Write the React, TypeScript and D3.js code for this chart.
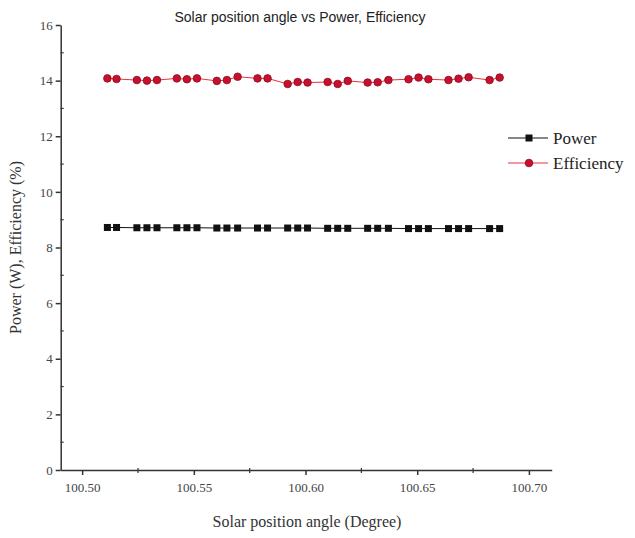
import React, { useEffect, useRef } from 'react';
import * as d3 from 'd3';

// solar position angle (degree)
const angles = [
  100.5113, 100.5154,
  100.5245, 100.5290, 100.5335,
  100.5424, 100.5469, 100.5514,
  100.5603, 100.5648, 100.5696,
  100.5785, 100.5830,
  100.5920, 100.5965, 100.6009,
  100.6099, 100.6144, 100.6189,
  100.6278, 100.6323, 100.6371,
  100.6461, 100.6506, 100.6550,
  100.6640, 100.6685, 100.6730,
  100.6824, 100.6869,
];

const power = [
  8.72, 8.72,
  8.71, 8.71, 8.71,
  8.71, 8.71, 8.71,
  8.70, 8.70, 8.70,
  8.70, 8.70,
  8.70, 8.70, 8.70,
  8.69, 8.69, 8.69,
  8.69, 8.69, 8.69,
  8.68, 8.68, 8.68,
  8.68, 8.68, 8.68,
  8.68, 8.68,
];

const efficiency = [
  14.08, 14.06,
  14.02, 14.0, 14.02,
  14.08, 14.05, 14.08,
  13.99, 14.02, 14.14,
  14.08, 14.08,
  13.88, 13.95, 13.93,
  13.95, 13.88, 13.99,
  13.93, 13.94, 14.02,
  14.05, 14.11, 14.05,
  14.02, 14.07, 14.12,
  14.02, 14.11,
];

const xTicks = [100.5, 100.55, 100.6, 100.65, 100.7];
const yTicks = [0, 2, 4, 6, 8, 10, 12, 14, 16];

const W = 635;
const H = 538;

const draw = (node: SVGSVGElement) => {
  const svg = d3.select(node);
  svg.selectAll('*').remove();

  const x = d3.scaleLinear().domain([100.4904, 100.7102]).range([60.7, 551.7]);
  const y = d3.scaleLinear().domain([0, 16]).range([470, 25]);
  const axisColor = '#333';
  const serif = '"Liberation Serif", "Times New Roman", serif';

  // x axis
  const xAxis = d3.axisBottom(x)
    .tickValues(xTicks)
    .tickFormat(d3.format('.2f'))
    .tickSize(5)
    .tickSizeOuter(0);
  const gx = svg.append('g')
    .attr('transform', `translate(0, ${y(0)})`)
    .call(xAxis);
  gx.select('.domain').attr('stroke', axisColor).attr('stroke-width', 1.5);
  gx.selectAll('.tick line').attr('stroke', axisColor).attr('stroke-width', 1.5);
  gx.selectAll('.tick text')
    .attr('fill', '#444')
    .attr('font-family', serif)
    .attr('font-size', 13)
    .attr('dy', '1.1em');
  // minor ticks
  gx.selectAll('.minor')
    .data([100.525, 100.575, 100.625, 100.675])
    .enter()
    .append('line')
    .attr('x1', d => x(d))
    .attr('x2', d => x(d))
    .attr('y1', -2)
    .attr('y2', 3)
    .attr('stroke', axisColor)
    .attr('stroke-width', 1.2);

  // y axis
  const yAxis = d3.axisLeft(y)
    .tickValues(yTicks)
    .tickFormat(d3.format('d'))
    .tickSize(5)
    .tickSizeOuter(0);
  const gy = svg.append('g')
    .attr('transform', `translate(${x.range()[0]}, 0)`)
    .call(yAxis);
  gy.select('.domain').attr('stroke', axisColor).attr('stroke-width', 1.5);
  gy.selectAll('.tick line').attr('stroke', axisColor).attr('stroke-width', 1.5);
  gy.selectAll('.tick text')
    .attr('fill', '#444')
    .attr('font-family', serif)
    .attr('font-size', 13);
  gy.selectAll('.minor')
    .data([1, 3, 5, 7, 9, 11, 13, 15])
    .enter()
    .append('line')
    .attr('x1', 0)
    .attr('x2', 3)
    .attr('y1', d => y(d))
    .attr('y2', d => y(d))
    .attr('stroke', axisColor)
    .attr('stroke-width', 1.2);

  // titles
  svg.append('text')
    .text('Solar position angle vs Power, Efficiency')
    .attr('x', 300)
    .attr('y', 22)
    .attr('text-anchor', 'middle')
    .attr('font-family', '"Liberation Sans", Arial, sans-serif')
    .attr('font-size', 14)
    .attr('fill', '#222');

  svg.append('text')
    .text('Solar position angle (Degree)')
    .attr('x', 307)
    .attr('y', 527)
    .attr('text-anchor', 'middle')
    .attr('font-family', serif)
    .attr('font-size', 16)
    .attr('fill', '#333');

  svg.append('text')
    .text('Power (W), Efficiency (%)')
    .attr('transform', `translate(21, ${(y(0) + y(16)) / 2}) rotate(-90)`)
    .attr('text-anchor', 'middle')
    .attr('font-family', serif)
    .attr('font-size', 16)
    .attr('fill', '#333');

  const line = d3.line<number>()
    .x((d, i) => x(angles[i]))
    .y(d => y(d));

  // power series
  svg.append('path')
    .datum(power)
    .attr('d', line)
    .attr('fill', 'none')
    .attr('stroke', '#111')
    .attr('stroke-width', 1);
  svg.append('g')
    .selectAll('rect')
    .data(power)
    .enter()
    .append('rect')
    .attr('x', (d, i) => x(angles[i]) - 3.5)
    .attr('y', d => y(d) - 3.5)
    .attr('width', 7)
    .attr('height', 7)
    .attr('fill', '#111');

  // efficiency series
  svg.append('path')
    .datum(efficiency)
    .attr('d', line)
    .attr('fill', 'none')
    .attr('stroke', '#e8323c')
    .attr('stroke-width', 1);
  svg.append('g')
    .selectAll('circle')
    .data(efficiency)
    .enter()
    .append('circle')
    .attr('cx', (d, i) => x(angles[i]))
    .attr('cy', d => y(d))
    .attr('r', 3.8)
    .attr('fill', '#c8102e')
    .attr('stroke', '#8a0a1e')
    .attr('stroke-width', 0.8);

  // legend
  const legend = [
    { name: 'Power', color: '#111', shape: 'square' },
    { name: 'Efficiency', color: '#e8323c', shape: 'circle' },
  ];
  const lg = svg.append('g').attr('transform', 'translate(508, 138)');
  legend.forEach((l, i) => {
    const row = lg.append('g').attr('transform', `translate(0, ${i * 25})`);
    row.append('line')
      .attr('x1', 0).attr('x2', 40)
      .attr('y1', 0).attr('y2', 0)
      .attr('stroke', l.color)
      .attr('stroke-width', 1);
    if (l.shape === 'square') {
      row.append('rect')
        .attr('x', 17.5).attr('y', -3.5)
        .attr('width', 7).attr('height', 7)
        .attr('fill', '#111');
    } else {
      row.append('circle')
        .attr('cx', 21).attr('cy', 0).attr('r', 3.8)
        .attr('fill', '#c8102e')
        .attr('stroke', '#8a0a1e')
        .attr('stroke-width', 0.8);
    }
    row.append('text')
      .text(l.name)
      .attr('x', 45)
      .attr('y', 0)
      .attr('dy', '0.35em')
      .attr('font-family', serif)
      .attr('font-size', 17)
      .attr('fill', '#222');
  });
};

export default function App() {
  const ref = useRef<SVGSVGElement>(null);

  useEffect(() => {
    if (ref.current) draw(ref.current);
  }, []);

  return (
    <svg
      ref={ref}
      width={W}
      height={H}
      style={{ position: 'absolute', left: 0, top: 0, background: '#fff' }}
    />
  );
}
